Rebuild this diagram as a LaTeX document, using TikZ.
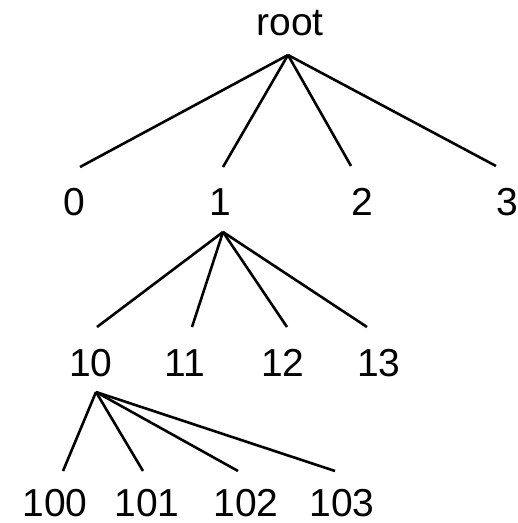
\documentclass[tikz,border=0pt]{standalone}
\usepackage{fontspec}
\setmainfont{Liberation Sans}
\begin{document}
\begin{tikzpicture}[x=1pt,y=-1pt,
  lbl/.style={font=\fontsize{39}{42}\selectfont, anchor=base, inner sep=0pt},
  edge/.style={line width=2.6pt, black}]
\useasboundingbox (0,0) rectangle (518,523);
% labels, placed by their baselines
\node[lbl] (root) at (290,35) {root};
\node[lbl] (n0) at (74,215) {0};
\node[lbl] (n1) at (220,215) {1};
\node[lbl] (n2) at (362,215) {2};
\node[lbl] (n3) at (507,215) {3};
\node[lbl] (n10) at (91,376) {10};
\node[lbl] (n11) at (185,376) {11};
\node[lbl] (n12) at (283,376) {12};
\node[lbl] (n13) at (379,376) {13};
\node[lbl] (n100) at (55,516) {100};
\node[lbl] (n101) at (147,516) {101};
\node[lbl] (n102) at (246,516) {102};
\node[lbl] (n103) at (342,516) {103};
% root level
\draw[edge] ([shift={(-2,20)}]root.base) -- ([shift={(6,-48)}]n0.base);
\draw[edge] ([shift={(-2,20)}]root.base) -- ([shift={(3,-48)}]n1.base);
\draw[edge] ([shift={(-2,20)}]root.base) -- ([shift={(-11,-49)}]n2.base);
\draw[edge] ([shift={(-2,20)}]root.base) -- ([shift={(-11,-49)}]n3.base);
% children of 1
\draw[edge] ([shift={(3,17)}]n1.base) -- ([shift={(6,-49)}]n10.base);
\draw[edge] ([shift={(3,17)}]n1.base) -- ([shift={(7,-49)}]n11.base);
\draw[edge] ([shift={(3,17)}]n1.base) -- ([shift={(4,-49)}]n12.base);
\draw[edge] ([shift={(3,17)}]n1.base) -- ([shift={(-12,-49)}]n13.base);
% children of 10
\draw[edge] ([shift={(5,16)}]n10.base) -- ([shift={(8,-45)}]n100.base);
\draw[edge] ([shift={(5,16)}]n10.base) -- ([shift={(-4,-45)}]n101.base);
\draw[edge] ([shift={(5,16)}]n10.base) -- ([shift={(-8,-45)}]n102.base);
\draw[edge] ([shift={(5,16)}]n10.base) -- ([shift={(-7,-45)}]n103.base);
\end{tikzpicture}
\end{document}
